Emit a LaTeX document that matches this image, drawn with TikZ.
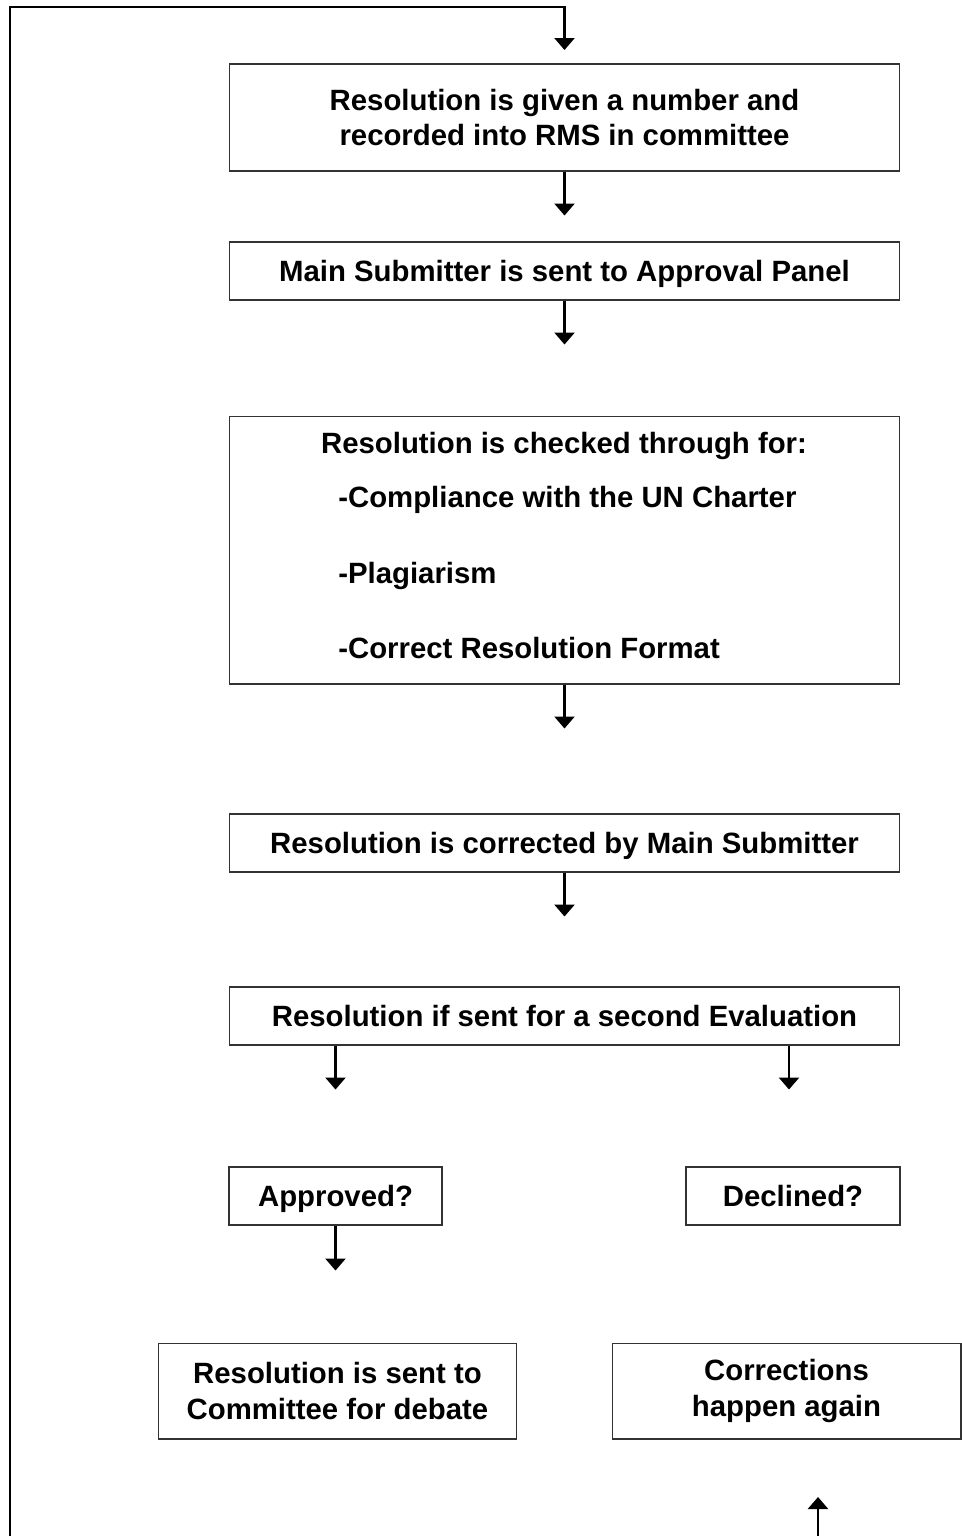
\documentclass[tikz,border=0pt]{standalone}
\usepackage{fontspec}
\setmainfont{Liberation Sans}
\usetikzlibrary{positioning,arrows.meta,calc}

\begin{document}
\begin{tikzpicture}[
  x=0.02cm, y=-0.02cm,
  stepbox/.style={draw=black!80, line width=0.6pt, inner sep=0pt, minimum height=1.16cm,
    align=center, font=\fontsize{16.7}{20}\selectfont\bfseries},
  oneline/.style={text height=12pt, text depth=0pt},
  wide/.style={stepbox, minimum width=13.42cm},
  arrow/.style={-{Triangle[width=0.4cm, length=0.24cm]}, line width=1.4pt},
  item/.style={anchor=base west, font=\fontsize{16.7}{20}\selectfont\bfseries, inner sep=0pt},
]
\useasboundingbox (0,0) rectangle (962,1536);

% === MAIN COLUMN ===
\node[wide, minimum height=2.14cm] (numbered) at (564.5,117.5)
  {Resolution is given a number and\\recorded into RMS in committee};
\node[wide, oneline] (panel) at (564.5,271) {Main Submitter is sent to Approval Panel};
\node[wide, minimum height=5.36cm] (check) at (564.5,550) {};
\node[item, anchor=base] (checktitle) at (564,453) {Resolution is checked through for:};
\node[item] (charter) at (338,507) {-Compliance with the UN Charter};
\node[item] (plagiarism) at (338,583) {-Plagiarism};
\node[item] (format) at (338,658) {-Correct Resolution Format};
\node[wide, oneline] (corrected) at (564.5,843) {Resolution is corrected by Main Submitter};
\node[wide, oneline] (second) at (564.5,1016) {Resolution if sent for a second Evaluation};

% === OUTCOMES ===
\node[stepbox, oneline, minimum width=4.26cm] (approved) at (335.5,1196) {Approved?};
\node[stepbox, oneline, minimum width=4.28cm] (declined) at (793,1196) {Declined?};
\node[stepbox, minimum width=7.18cm, minimum height=1.92cm] (debate) at (337.5,1391)
  {Resolution is sent to\\Committee for debate};
\node[stepbox, minimum width=6.98cm, minimum height=1.92cm] (again) at (786.5,1391)
  {Corrections\\happen again};

% === ARROWS ===
\draw[arrow] (numbered.south) -- ++(0,44);
\draw[arrow] (panel.south) -- ++(0,44);
\draw[arrow] (check.south) -- ++(0,44);
\draw[arrow] (corrected.south) -- ++(0,44);
\draw[arrow] (second.south -| approved.north) -- ++(0,44);
\draw[arrow] (second.south -| 789,0) -- ++(0,44);
\draw[arrow] (approved.south) -- ++(0,45);

% loop back to the top
\coordinate (loopstart) at (10,1540);
\coordinate (loopturn) at (numbered.north |- 0,7);
\draw[arrow] (loopstart) |- (loopturn) -- ++(0,43);
\coordinate (backstart) at (818,1540);
\draw[arrow] (backstart) -- ++(0,-43);
\end{tikzpicture}
\end{document}
